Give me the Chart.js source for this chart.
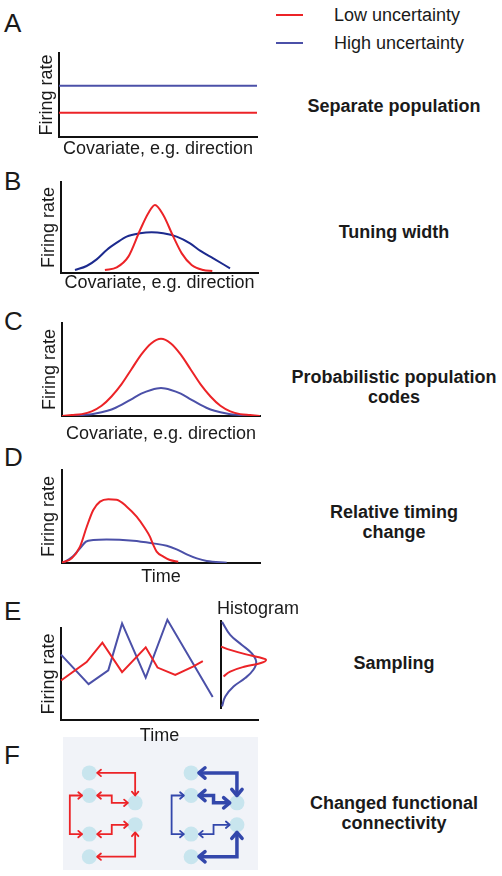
<!DOCTYPE html>
<html>
<head>
<meta charset="utf-8">
<script src="https://cdn.jsdelivr.net/npm/chart.js@4.4.1/dist/chart.umd.min.js"></script>
<style>
  html, body { margin: 0; padding: 0; background: #fff; }
  body { width: 502px; height: 876px; position: relative; overflow: hidden;
         font-family: "Liberation Sans", Arial, sans-serif; color: #1a1a1a; }
  canvas { position: absolute; }
  .t { position: absolute; white-space: nowrap; z-index: 2; }
  .side { font-weight: bold; text-align: center; width: 230px; }
  .key { position: absolute; width: 27px; height: 2px; }
</style>
</head>
<body>
<script>
/* ---------------------------------- Data ---------------------------------- */
const RED = '#ec2327';
const BLUE = '#4b50a8';
const NAVY = '#1c2a8e';
const NET_BLUE = '#3347ab';

// A - separate population (flat lines over the covariate)
const sepX = [0, 100];
const sepLow = [29, 29];
const sepHigh = [61, 61];

// B - tuning width
const tuneLowX = [22.3, 28.3, 34.2, 40.1, 44.3, 47.7, 51.9, 57, 61.3, 66.3, 72.2, 76.8];
const tuneLowY = [3.3, 6.2, 18, 47, 65.6, 74.7, 63.7, 40, 21.6, 8.8, 3.3, 2.2];
const tuneHighX = [7.1, 13, 18.1, 23.2, 28.3, 33.3, 40.1, 46, 51.9, 58.7, 65.5, 70.6, 77.3, 85.8];
const tuneHighY = [3.3, 7.7, 15, 25.3, 33.3, 40, 43.6, 44.7, 43.6, 40, 32.6, 24.5, 16.1, 5.1];

// C - probabilistic population codes
const ppcX = [0, 5, 10, 15, 20, 25, 30, 35, 40, 45, 50, 55, 60, 65, 70, 75, 80, 85, 90, 95, 100];
const ppcLow = [0, 1, 2, 5, 11, 21, 34, 50, 66, 78, 83, 78, 66, 50, 34, 21, 11, 5, 2, 1, 0];
const ppcHigh = [0, 0, 1, 2, 4, 7, 12, 18, 24, 28, 30, 28, 24, 18, 12, 7, 4, 2, 1, 0, 0];

// D - relative timing change
const timeLowX = [0, 4.9, 9.1, 12.5, 15.8, 19.2, 23.4, 27.6, 32.7, 37.7, 41.9, 44.4, 46.1, 47.8, 51.2, 54.5, 58.7];
const timeLowY = [0.4, 5, 17.6, 39, 57, 66, 68.5, 68, 60.6, 49.8, 37.3, 28.3, 19.4, 12.2, 6.8, 3.2, 1.4];
const timeHighX = [0.5, 4.9, 9.1, 12.1, 15.8, 22.5, 36, 46.1, 52.9, 57.9, 63, 68.1, 73.1, 83.2];
const timeHighY = [0.4, 6.1, 15.8, 22.9, 24.7, 25.4, 24, 21.1, 18.6, 14.7, 9.3, 5, 2.2, 0.4];

// E - sampling traces and their histograms
const sampLowX = [0, 13, 21, 31, 43, 49, 58, 67, 72];
const sampLowY = [43, 63, 84, 52, 79, 57, 49, 58, 64];
const sampHighX = [0, 14, 24, 31, 43, 54, 77];
const sampHighY = [71, 39, 54, 105, 46, 109, 25];
const histHighX = [2, 18, 41, 60, 69, 63.5, 47.4, 24.6, 8.4, 2];
const histHighY = [99, 84, 72.5, 63, 53.4, 43.9, 34.4, 24.7, 13.3, 1.8];
const histLowX = [0, 18, 47.4, 76.6, 88.3, 76.6, 47.4, 18, 5];
const histLowY = [70.6, 66.8, 61.9, 58, 55.3, 51.5, 47.7, 41.9, 36.2];

// F - functional connectivity (node grid positions and connection paths)
const netNodes = [
  [13.5, 73], [13.5, 56], [13.5, 27], [13.5, 10], [37, 50.5], [37, 34],
  [65.7, 73], [65.7, 56], [65.7, 27], [65.7, 10], [89.2, 50.5], [89.2, 34]
];
const lowLinks = [
  [[17.5, 73], [37, 73], [37, 56]],
  [[17.5, 56], [25, 56], [25, 50.5], [33.3, 50.5]],
  [[9.8, 56], [3.5, 56], [3.5, 27], [9.8, 27]],
  [[17.5, 27], [25, 27], [25, 34], [33.3, 34]],
  [[17.5, 10], [37, 10], [37, 28.3]]
];
const highLinks = [
  [[69.7, 73], [89.2, 73], [89.2, 56]],
  [[69.7, 56], [77.2, 56], [77.2, 50.5], [85.5, 50.5]],
  [[62, 56], [55.7, 56], [55.7, 27], [62, 27]],
  [[69.7, 27], [77.2, 27], [77.2, 34], [85.5, 34]],
  [[69.7, 10], [89.2, 10], [89.2, 28.3]]
];
const highLinkStrong = [true, true, false, false, true];

const legendLabels = ['Low uncertainty', 'High uncertainty'];
const panelLetters = ['A', 'B', 'C', 'D', 'E', 'F'];
const panelNames = [
  'Separate population', 'Tuning width', 'Probabilistic population<br>codes',
  'Relative timing<br>change', 'Sampling', 'Changed functional<br>connectivity'
];
const covariateTitle = 'Covariate, e.g. direction';
const rateTitle = 'Firing rate';
const timeTitle = 'Time';

/* --------------------------------- Helpers -------------------------------- */
const axisFont = { family: '"Liberation Sans", Arial, sans-serif', size: 18, lineHeight: 1 };
const pts = (xs, ys) => xs.map((x, i) => ({ x, y: ys[i] }));
const pairs = (list) => list.map(([x, y]) => ({ x, y }));

const addCanvas = (left, top, w, h, z = 1) => {
  const c = document.createElement('canvas');
  c.width = w;
  c.height = h;
  c.style.left = left + 'px';
  c.style.top = top + 'px';
  c.style.zIndex = z;
  document.body.appendChild(c);
  return c;
};

// place text by its baseline
const text = (html, x, baseline, size, opts = {}) => {
  const lh = opts.lh || size;
  const d = document.createElement('div');
  d.className = 't ' + (opts.cls || '');
  d.innerHTML = html;
  d.style.fontSize = size + 'px';
  d.style.lineHeight = lh + 'px';
  d.style.left = x + 'px';
  d.style.top = (baseline - ((lh - 1.117 * size) / 2 + 0.905 * size)) + 'px';
  document.body.appendChild(d);
};

const line = (data, color, extra = {}) => ({
  data, borderColor: color, borderWidth: 2, pointRadius: 0, fill: false, ...extra
});

// box = chart area, yMid / xMid = centre lines of the axis titles
const axesPanel = ({ box, yMid, xMid, xTitle, datasets, padTop = 6 }) => {
  const left = Math.round(yMid - 9);
  const top = box.top - padTop;
  const right = box.right + 6;
  const bottom = Math.round(xMid + 9);
  const c = addCanvas(left, top, right - left, bottom - top, 2);
  const axis = (title, pad) => ({
    type: 'linear', min: 0, max: 100,
    grid: { display: false, drawTicks: false },
    ticks: { display: false },
    border: { display: true, color: '#111', width: 2 },
    title: { display: true, text: title, color: '#1a1a1a', font: axisFont, padding: pad }
  });
  new Chart(c, {
    type: 'line',
    data: { datasets },
    options: {
      responsive: false, animation: false, events: [],
      layout: { autoPadding: false, padding: { top: padTop, right: 6 } },
      plugins: { legend: { display: false }, tooltip: { enabled: false } },
      scales: {
        x: axis(xTitle, { top: bottom - box.bottom - 18, bottom: 0 }),
        y: axis(rateTitle, { top: 0, bottom: box.left - left - 18 })
      }
    }
  });
};

/* --------------------------------- Panels --------------------------------- */
axesPanel({
  box: { left: 59, top: 53, right: 257, bottom: 137 }, yMid: 47, xMid: 148.6,
  xTitle: covariateTitle,
  datasets: [line(pts(sepX, sepHigh), BLUE), line(pts(sepX, sepLow), RED)]
});

axesPanel({
  box: { left: 61, top: 182, right: 258, bottom: 273 }, yMid: 48.8, xMid: 283.3,
  xTitle: covariateTitle,
  datasets: [
    line(pts(tuneLowX, tuneLowY), RED, { tension: 0.4, cubicInterpolationMode: 'monotone' }),
    line(pts(tuneHighX, tuneHighY), NAVY, { tension: 0.4, cubicInterpolationMode: 'monotone' })
  ]
});

axesPanel({
  box: { left: 62, top: 323, right: 260, bottom: 416 }, yMid: 49.8, xMid: 434.3,
  xTitle: covariateTitle,
  datasets: [
    line(pts(ppcX, ppcLow), RED, { cubicInterpolationMode: 'monotone' }),
    line(pts(ppcX, ppcHigh), BLUE, { cubicInterpolationMode: 'monotone' })
  ]
});

axesPanel({
  box: { left: 62, top: 470, right: 260, bottom: 563 }, yMid: 48.8, xMid: 577,
  xTitle: timeTitle,
  datasets: [
    line(pts(timeLowX, timeLowY), RED, { cubicInterpolationMode: 'monotone' }),
    line(pts(timeHighX, timeHighY), BLUE, { cubicInterpolationMode: 'monotone' })
  ]
});

axesPanel({
  box: { left: 61, top: 628, right: 258, bottom: 720 }, yMid: 48.8, xMid: 735.6,
  xTitle: timeTitle, padTop: 12,
  datasets: [
    line(pts(sampLowX, sampLowY), RED, { clip: false }),
    line(pts(sampHighX, sampHighY), BLUE, { clip: false })
  ]
});

// E histogram: density sideways against the firing-rate axis
new Chart(addCanvas(215, 615, 62, 100, 2), {
  type: 'scatter',
  data: {
    datasets: [
      line(pts(histLowX, histLowY), RED, { showLine: true, tension: 0.4, clip: false }),
      line(pts(histHighX, histHighY), BLUE, { showLine: true, tension: 0.4, clip: false })
    ]
  },
  options: {
    responsive: false, animation: false, events: [],
    layout: { autoPadding: false, padding: { left: 6, top: 6, right: 5, bottom: 7 } },
    plugins: { legend: { display: false }, tooltip: { enabled: false } },
    scales: {
      x: { type: 'linear', min: 0, max: 100, display: false },
      y: {
        type: 'linear', min: 0, max: 100,
        grid: { display: false, drawTicks: false }, ticks: { display: false },
        border: { display: true, color: '#111', width: 2 }
      }
    }
  }
});

// F network: arrowheads at both ends of every link
const arrowHeads = {
  id: 'arrowHeads',
  beforeDraw(chart) {
    const { ctx, chartArea: a } = chart;
    ctx.save();
    ctx.fillStyle = '#f1f3f8';
    ctx.fillRect(a.left, a.top, a.right - a.left, a.bottom - a.top);
    ctx.restore();
  },
  afterDatasetsDraw(chart) {
    const { ctx } = chart;
    chart.data.datasets.forEach((ds, i) => {
      if (!ds.head) return;
      const p = chart.getDatasetMeta(i).data;
      const ends = [[p[1], p[0]], [p[p.length - 2], p[p.length - 1]]];
      ctx.save();
      ctx.strokeStyle = ds.borderColor;
      ctx.lineWidth = ds.borderWidth;
      ctx.lineCap = 'round';
      ctx.lineJoin = 'round';
      ends.forEach(([from, tip]) => {
        const ang = Math.atan2(tip.y - from.y, tip.x - from.x);
        ctx.beginPath();
        ctx.moveTo(tip.x - ds.head * Math.cos(ang - 0.7), tip.y - ds.head * Math.sin(ang - 0.7));
        ctx.lineTo(tip.x, tip.y);
        ctx.lineTo(tip.x - ds.head * Math.cos(ang + 0.7), tip.y - ds.head * Math.sin(ang + 0.7));
        ctx.stroke();
      });
      ctx.restore();
    });
  }
};

const netSets = [
  ...lowLinks.map(l => line(pairs(l), RED, { showLine: true, borderWidth: 1.8, head: 5 })),
  ...highLinks.map((l, i) => line(pairs(l), NET_BLUE, {
    showLine: true, borderWidth: highLinkStrong[i] ? 3.5 : 1.8, head: highLinkStrong[i] ? 8 : 5
  })),
  { data: pairs(netNodes), pointRadius: 7.5, backgroundColor: '#c8e5ee', borderWidth: 0, showLine: false }
];

new Chart(addCanvas(63, 737, 195, 133, 1), {
  type: 'scatter',
  data: { datasets: netSets },
  options: {
    responsive: false, animation: false, events: [],
    layout: { autoPadding: false },
    plugins: { legend: { display: false }, tooltip: { enabled: false } },
    scales: {
      x: { type: 'linear', min: 0, max: 100, display: false },
      y: { type: 'linear', min: 0, max: 100, display: false }
    }
  },
  plugins: [arrowHeads]
});

/* ---------------------------------- Text ---------------------------------- */
const letterBase = [31.6, 190.3, 330.3, 465.9, 620.3, 763.6];
panelLetters.forEach((l, i) => text(l, 4, letterBase[i], 26));

const keyY = [15, 43];
[RED, BLUE].forEach((col, i) => {
  const k = document.createElement('div');
  k.className = 'key';
  k.style.left = '276px';
  k.style.top = (keyY[i] - 1) + 'px';
  k.style.background = col;
  document.body.appendChild(k);
  text(legendLabels[i], 334, keyY[i] + 6.4, 18);
});

const nameBase = [112.2, 237.9, 382.9, 517.9, 669.6, 809.6];
panelNames.forEach((n, i) => text(n, 394 - 115, nameBase[i], 18, { cls: 'side', lh: 20 }));

text('Histogram', 217, 614.6, 18);
</script>
</body>
</html>
